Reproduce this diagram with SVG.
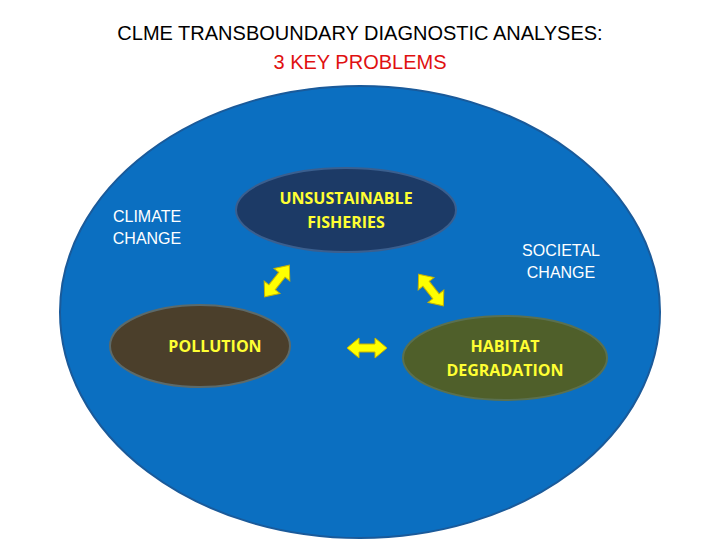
<svg xmlns="http://www.w3.org/2000/svg" width="720" height="540" viewBox="0 0 720 540">
<style>
.t{font-family:"Liberation Sans",Arial,sans-serif;font-size:20px;text-anchor:middle}
.w{font-family:"Liberation Sans",Arial,sans-serif;font-size:16px;fill:#fff;text-anchor:middle}
.y{font-family:"Open Sans","Liberation Sans",sans-serif;font-size:16px;font-weight:bold;fill:#ffff33;text-anchor:middle}
.a{fill:#ffff00;stroke:#c8b400;stroke-width:1}
</style>
<defs>
<polygon id="da" points="-20,0 -8,-10 -8,-4 8,-4 8,-10 20,0 8,10 8,4 -8,4 -8,10"/>
</defs>
<rect width="720" height="540" fill="#fff"/>
<text class="t" x="360" y="40">CLME TRANSBOUNDARY DIAGNOSTIC ANALYSES:</text>
<text class="t" x="360" y="69" fill="#e01010">3 KEY PROBLEMS</text>
<g id="ocean"><ellipse cx="360" cy="312" rx="300" ry="226" fill="#0b6fc1" stroke="#1a5a9a" stroke-width="2"/></g>
<g id="climate"><text class="w" x="147" y="222">CLIMATE</text><text class="w" x="147" y="244">CHANGE</text></g>
<g id="societal"><text class="w" x="561" y="256">SOCIETAL</text><text class="w" x="561" y="278">CHANGE</text></g>
<g id="fisheries"><ellipse cx="346" cy="210" rx="110" ry="42" fill="#1c3a66" stroke="#3a5f8f" stroke-width="2"/><text class="y" x="346" y="204">UNSUSTAINABLE</text><text class="y" x="346" y="228">FISHERIES</text></g>
<g id="pollution"><ellipse cx="200" cy="346" rx="90" ry="41" fill="#4b3f2b" stroke="#5c6a6a" stroke-width="2"/><text class="y" x="215" y="352">POLLUTION</text></g>
<g id="habitat"><ellipse cx="505" cy="358" rx="102" ry="42" fill="#4f5f2a" stroke="#5a7050" stroke-width="2"/><text class="y" x="505" y="352">HABITAT</text><text class="y" x="505" y="376">DEGRADATION</text></g>
<g id="connectors">
<use href="#da" class="a" transform="translate(277,281) rotate(-52)"/>
<use href="#da" class="a" transform="translate(431,290) rotate(52)"/>
<use href="#da" class="a" transform="translate(367,348)"/>
</g>
</svg>
